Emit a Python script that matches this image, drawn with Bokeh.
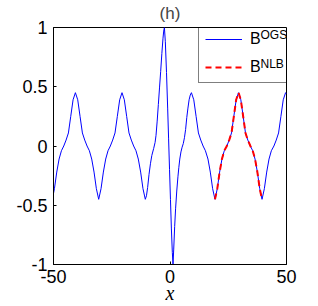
from bokeh.plotting import figure
from bokeh.models import Legend, LegendItem, Label, FixedTicker, Range1d
from bokeh.core.properties import value
from bokeh.embed import file_html
from bokeh.resources import INLINE

# ---- data ----
x_ogs = [-50.0, -49.6, -48.6, -47.6, -46.6, -45.6, -44.6, -43.6, -42.6, -41.6,
         -40.6, -39.6, -38.6, -37.6, -36.6, -35.6, -34.6, -33.6, -32.6, -31.6,
         -30.6, -29.6, -28.6, -27.6, -26.6, -25.6, -24.6, -23.6, -22.6, -21.6,
         -20.6, -19.6, -18.6, -17.6, -16.6, -15.6, -14.6, -13.6, -12.6, -11.6,
         -10.6, -10.1, -9.6, -9.0, -8.4, -7.8, -7.0, -6.4, -6.0, -5.5,
         -5.0, -4.5, -4.0, -3.5, -3.0, -2.7, -2.4, -2.0, -1.5, -1.0,
         -0.6, -0.2, 0.2, 0.6, 1.0, 1.3, 1.6, 2.0, 2.4, 2.9,
         3.4, 3.8, 4.2, 4.7, 5.2, 5.7, 6.2, 6.7, 7.2, 7.7,
         8.2, 8.7, 9.2, 10.2, 11.2, 12.2, 13.2, 14.2, 15.2, 16.3,
         17.3, 18.3, 19.3, 20.3, 21.3, 22.3, 23.3, 24.4, 25.4, 26.4,
         27.4, 28.4, 29.4, 30.4, 31.4, 32.4, 33.4, 34.5, 35.5, 36.5,
         37.5, 38.5, 39.5, 40.5, 41.5, 42.5, 43.5, 44.6, 45.6, 46.6,
         47.6, 48.6, 49.6, 50.0]
b_ogs = [-0.40, -0.36, -0.22, -0.11, -0.04, 0.00, 0.05, 0.11, 0.25, 0.39,
         0.45, 0.39, 0.25, 0.11, 0.05, 0.00, -0.04, -0.11, -0.22, -0.36,
         -0.45, -0.36, -0.22, -0.11, -0.04, 0.00, 0.05, 0.11, 0.25, 0.39,
         0.45, 0.39, 0.25, 0.11, 0.05, 0.00, -0.04, -0.11, -0.22, -0.36,
         -0.45, -0.42, -0.35, -0.24, -0.15, -0.08, -0.02, 0.03, 0.09, 0.21,
         0.35, 0.49, 0.63, 0.78, 0.91, 0.97, 1.00, 0.88, 0.62, 0.32,
         0.06, -0.20, -0.45, -0.70, -0.90, -1.00, -0.87, -0.68, -0.53, -0.38,
         -0.26, -0.18, -0.11, -0.05, -0.01, 0.02, 0.07, 0.14, 0.24, 0.32,
         0.39, 0.43, 0.45, 0.39, 0.25, 0.11, 0.05, 0.00, -0.04, -0.11,
         -0.22, -0.36, -0.45, -0.36, -0.22, -0.11, -0.04, 0.00, 0.05, 0.11,
         0.25, 0.39, 0.45, 0.39, 0.25, 0.11, 0.05, 0.00, -0.04, -0.11,
         -0.22, -0.36, -0.45, -0.36, -0.22, -0.11, -0.04, 0.00, 0.05, 0.11,
         0.25, 0.39, 0.45, 0.44]

x_nlb = [19.3, 20.3, 21.3, 22.3, 23.3, 24.4, 25.4, 26.4, 27.4, 28.4,
         29.4, 30.4, 31.4, 32.4, 33.4, 34.5, 35.5, 36.5, 37.5, 38.5, 39.5]
b_nlb = [-0.45, -0.36, -0.22, -0.11, -0.04, 0.00, 0.05, 0.11, 0.25, 0.39,
         0.45, 0.39, 0.25, 0.11, 0.05, 0.00, -0.04, -0.11, -0.22, -0.36, -0.45]

x_ticks = [-50, 0, 50]
x_tick_labels = ["-50", "0", "50"]
y_ticks = [-1, -0.5, 0, 0.5, 1]
y_tick_labels = ["-1", "-0.5", "0", "0.5", "1"]
title_text = "(h)"
x_label_text = "x"
legend_base = ["B", "B"]
legend_sup = ["OGS", "NLB"]

FONT = "Liberation Sans"

p = figure(width=318, height=306, output_backend="svg", toolbar_location=None,
           x_range=Range1d(-50, 50), y_range=Range1d(-1, 1),
           min_border_left=53, min_border_right=32, min_border_top=27,
           min_border_bottom=40, x_axis_label=x_label_text)

p.title.text = title_text
p.title.align = "center"
p.title.vertical_align = "top"
p.title.text_font = FONT
p.title.text_font_size = "17px"
p.title.text_font_style = "normal"
p.title.standoff = 6

p.xgrid.visible = False
p.ygrid.visible = False
p.outline_line_color = "black"
p.outline_line_alpha = 1.0
p.background_fill_color = "white"
p.border_fill_color = "white"


def style_axis(ax, ticks, labels):
    ax.ticker = FixedTicker(ticks=ticks)
    ax.major_label_overrides = {t: l for t, l in zip(ticks, labels)}
    ax.axis_line_color = "black"
    ax.major_tick_line_color = "black"
    ax.major_tick_in = 3
    ax.major_tick_out = 0
    ax.minor_tick_in = 0
    ax.minor_tick_out = 0
    ax.major_label_text_font = FONT
    ax.major_label_text_color = "black"
    ax.major_label_text_font_size = "18px"


xb = p.below[0]
yl = p.left[0]
style_axis(xb, x_ticks, x_tick_labels)
style_axis(yl, y_ticks, y_tick_labels)
xb.major_label_standoff = 5
yl.major_label_standoff = 6
xb.axis_label_text_font = "Liberation Serif"
xb.axis_label_text_font_style = "italic"
xb.axis_label_text_font_size = "20px"
xb.axis_label_text_color = "black"
xb.axis_label_standoff = -4

r1 = p.line(x_ogs, b_ogs, line_color="#0000ff", line_width=1)
r2 = p.line(x_nlb, b_nlb, line_color="#ff0000", line_width=2, line_dash="6 4")

legend = Legend(
    items=[LegendItem(label=value(legend_base[0]), renderers=[r1]),
           LegendItem(label=value(legend_base[1]), renderers=[r2])],
    location=(145, 181), padding=6, spacing=10, margin=0,
    glyph_width=37, glyph_height=18, label_height=18, label_width=35,
    label_standoff=8, border_line_color="black", border_line_width=1,
    background_fill_alpha=0.0,
    label_text_font=FONT, label_text_font_size="16px", label_text_color="black")
p.add_layout(legend, "center")

sup_x = [38.84, 38.84]
sup_y = [0.933, 0.695]
for sx, sy, t in zip(sup_x, sup_y, legend_sup):
    p.add_layout(Label(x=sx, y=sy, text=t, text_font=FONT, text_font_size="12px",
                       text_baseline="middle", text_align="left", text_color="black",
                       level="overlay"))

open("out.html", "w").write(file_html(p, INLINE))
